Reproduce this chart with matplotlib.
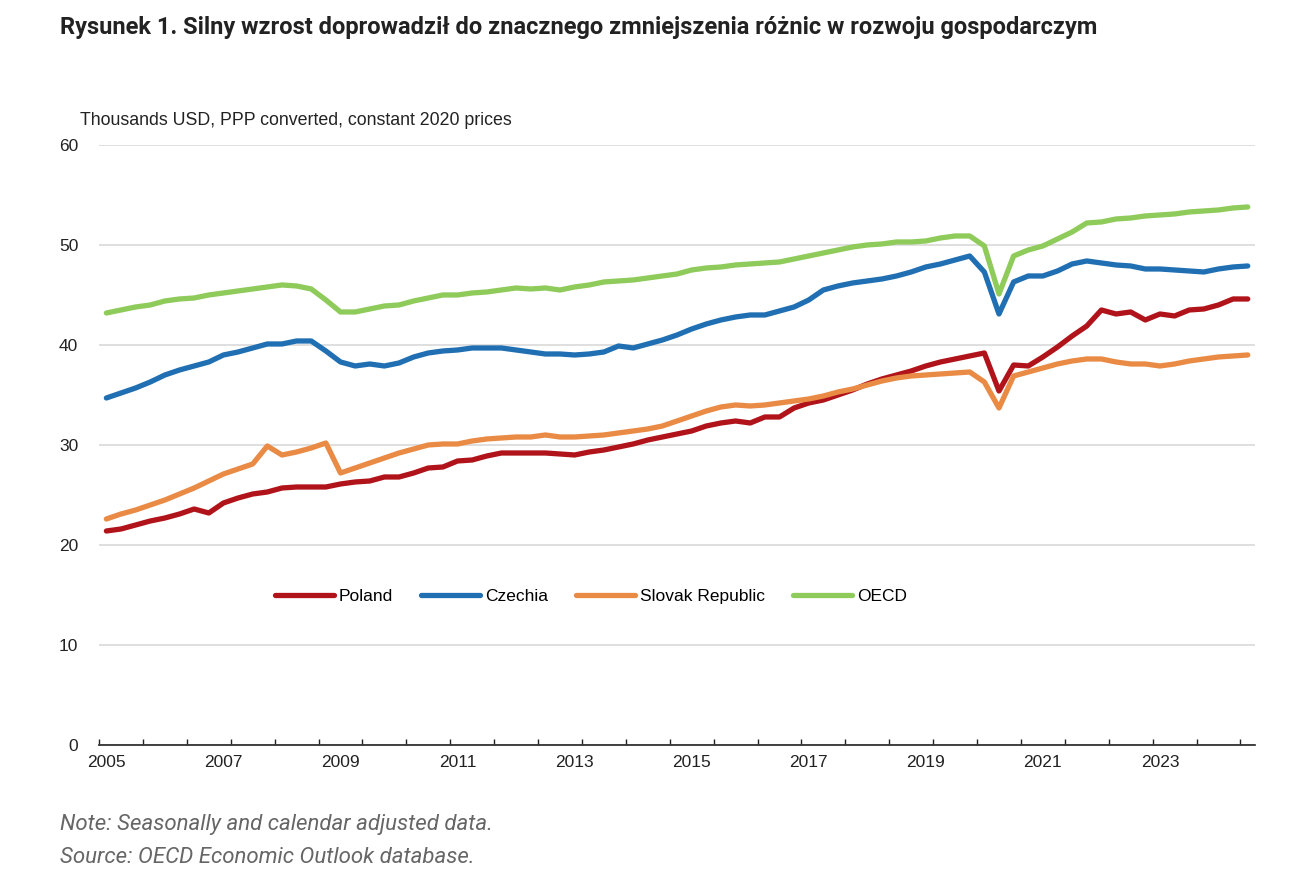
import numpy as np
import matplotlib
matplotlib.use('Agg')
import matplotlib.pyplot as plt

# 数据：2005Q1 - 2024Q3，季度
quarters = [f"{y}Q{q}" for y in range(2005, 2025) for q in range(1, 5)][:79]

poland = [21.4, 21.6, 22.0, 22.4, 22.7, 23.1, 23.6, 23.2, 24.2, 24.7,
          25.1, 25.3, 25.7, 25.8, 25.8, 25.8, 26.1, 26.3, 26.4, 26.8,
          26.8, 27.2, 27.7, 27.8, 28.4, 28.5, 28.9, 29.2, 29.2, 29.2,
          29.2, 29.1, 29.0, 29.3, 29.5, 29.8, 30.1, 30.5, 30.8, 31.1,
          31.4, 31.9, 32.2, 32.4, 32.2, 32.8, 32.8, 33.7, 34.2, 34.5,
          35.0, 35.5, 36.1, 36.6, 37.0, 37.4, 37.9, 38.3, 38.6, 38.9,
          39.2, 35.4, 38.0, 37.9, 38.8, 39.8, 40.9, 41.9, 43.5, 43.1,
          43.3, 42.5, 43.1, 42.9, 43.5, 43.6, 44.0, 44.6, 44.6]

czechia = [34.7, 35.2, 35.7, 36.3, 37.0, 37.5, 37.9, 38.3, 39.0, 39.3,
           39.7, 40.1, 40.1, 40.4, 40.4, 39.4, 38.3, 37.9, 38.1, 37.9,
           38.2, 38.8, 39.2, 39.4, 39.5, 39.7, 39.7, 39.7, 39.5, 39.3,
           39.1, 39.1, 39.0, 39.1, 39.3, 39.9, 39.7, 40.1, 40.5, 41.0,
           41.6, 42.1, 42.5, 42.8, 43.0, 43.0, 43.4, 43.8, 44.5, 45.5,
           45.9, 46.2, 46.4, 46.6, 46.9, 47.3, 47.8, 48.1, 48.5, 48.9,
           47.3, 43.1, 46.3, 46.9, 46.9, 47.4, 48.1, 48.4, 48.2, 48.0,
           47.9, 47.6, 47.6, 47.5, 47.4, 47.3, 47.6, 47.8, 47.9]

slovakia = [22.6, 23.1, 23.5, 24.0, 24.5, 25.1, 25.7, 26.4, 27.1, 27.6,
            28.1, 29.9, 29.0, 29.3, 29.7, 30.2, 27.2, 27.7, 28.2, 28.7,
            29.2, 29.6, 30.0, 30.1, 30.1, 30.4, 30.6, 30.7, 30.8, 30.8,
            31.0, 30.8, 30.8, 30.9, 31.0, 31.2, 31.4, 31.6, 31.9, 32.4,
            32.9, 33.4, 33.8, 34.0, 33.9, 34.0, 34.2, 34.4, 34.6, 34.9,
            35.3, 35.6, 36.0, 36.4, 36.7, 36.9, 37.0, 37.1, 37.2, 37.3,
            36.3, 33.7, 36.9, 37.3, 37.7, 38.1, 38.4, 38.6, 38.6, 38.3,
            38.1, 38.1, 37.9, 38.1, 38.4, 38.6, 38.8, 38.9, 39.0]

oecd = [43.2, 43.5, 43.8, 44.0, 44.4, 44.6, 44.7, 45.0, 45.2, 45.4,
        45.6, 45.8, 46.0, 45.9, 45.6, 44.5, 43.3, 43.3, 43.6, 43.9,
        44.0, 44.4, 44.7, 45.0, 45.0, 45.2, 45.3, 45.5, 45.7, 45.6,
        45.7, 45.5, 45.8, 46.0, 46.3, 46.4, 46.5, 46.7, 46.9, 47.1,
        47.5, 47.7, 47.8, 48.0, 48.1, 48.2, 48.3, 48.6, 48.9, 49.2,
        49.5, 49.8, 50.0, 50.1, 50.3, 50.3, 50.4, 50.7, 50.9, 50.9,
        49.9, 45.1, 48.9, 49.5, 49.9, 50.6, 51.3, 52.2, 52.3, 52.6,
        52.7, 52.9, 53.0, 53.1, 53.3, 53.4, 53.5, 53.7, 53.8]

series = [("Poland", poland, "#b0141a"),
          ("Czechia", czechia, "#1f6fb2"),
          ("Slovak Republic", slovakia, "#e98a45"),
          ("OECD", oecd, "#8fcb5a")]

y_ticks = [0, 10, 20, 30, 40, 50, 60]

title = "Rysunek 1. Silny wzrost doprowadził do znacznego zmniejszenia różnic w rozwoju gospodarczym"
unit = "Thousands USD, PPP converted, constant 2020 prices"
note = "Note: Seasonally and calendar adjusted data."
source = "Source: OECD Economic Outlook database."

plt.rcParams['font.family'] = ['Liberation Sans', 'DejaVu Sans']

fig = plt.figure(figsize=(13.12, 8.77), dpi=100)
ax = fig.add_axes([0.0755, 0.1505, 0.8811, 0.6842])

x = np.arange(len(quarters))
for name, vals, col in series:
    ax.plot(x, vals, color=col, lw=3.8, label=name, solid_joinstyle='round',
            solid_capstyle='round')

ax.set_xlim(-0.5, len(quarters) - 0.5)
ax.set_ylim(0, 60)
ax.set_yticks(y_ticks)
ax.yaxis.grid(True, color='#d9d9d9', lw=1.2)
ax.set_axisbelow(True)
for s in ['top', 'right', 'left']:
    ax.spines[s].set_visible(False)
ax.spines['bottom'].set_color('#222222')
ax.spines['bottom'].set_linewidth(1.2)
ax.tick_params(axis='y', length=0, pad=15, labelsize=12.5, labelcolor='#222222')

# 刻度线每3个季度，标签每2年
ax.set_xticks(np.arange(0, len(quarters), 3) - 0.5)
ax.set_xticklabels([])
ax.tick_params(axis='x', which='major', direction='in', length=4.5, width=1.0,
               color='#222222')
lab_idx = np.arange(0, len(quarters), 8)
ax.set_xticks(lab_idx, minor=True)
ax.set_xticklabels([quarters[i][:4] for i in lab_idx], minor=True)
ax.tick_params(axis='x', which='minor', length=0, pad=7, labelsize=12.5,
               labelcolor='#222222')

ax.legend(loc='center', bbox_to_anchor=(0.4256, 0.248), ncol=4, frameon=False,
          fontsize=12.5, handlelength=3.4, handletextpad=0.3, columnspacing=1.6)

fig.text(0.0457, 0.969, title, fontsize=17, fontweight='bold', color='#222222',
         va='center', family=['Roboto', 'DejaVu Sans'])
fig.text(0.061, 0.863, unit, fontsize=12.8, color='#222222', va='center')
fig.text(0.0457, 0.0604, note, fontsize=16, style='italic', color='#666666',
         va='center', family=['Roboto', 'DejaVu Sans'])
fig.text(0.0457, 0.0228, source, fontsize=16, style='italic', color='#666666',
         va='center', family=['Roboto', 'DejaVu Sans'])

fig.savefig("out.png", dpi=100)
